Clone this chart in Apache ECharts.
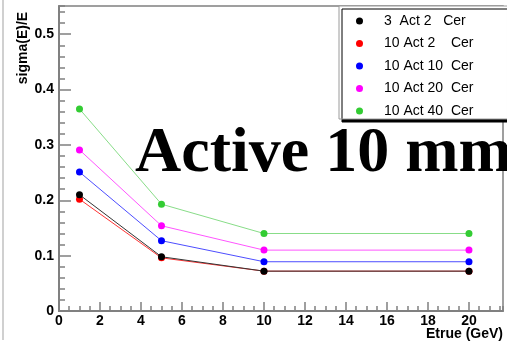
<!DOCTYPE html>
<html>
<head>
<meta charset="utf-8">
<script src="https://cdn.jsdelivr.net/npm/echarts@6/dist/echarts.min.js"></script>
<style>
  html, body { margin: 0; padding: 0; background: #fff; }
  #chart { width: 507px; height: 344px; }
</style>
</head>
<body>
<div id="chart"></div>
<script>
// Energy points (GeV)
var etrue = [1, 5, 10, 20];

// Series names and resolution values sigma(E)/E
var seriesNames = ['3  Act 2   Cer', '10 Act 2    Cer', '10 Act 10  Cer', '10 Act 20  Cer', '10 Act 40  Cer'];
var act3cer2   = [0.210, 0.098, 0.072, 0.072];
var act10cer2  = [0.202, 0.096, 0.072, 0.072];
var act10cer10 = [0.251, 0.127, 0.089, 0.089];
var act10cer20 = [0.291, 0.154, 0.110, 0.110];
var act10cer40 = [0.365, 0.193, 0.140, 0.140];
var seriesColors = ['#000000', '#ff0000', '#0000ff', '#ff00ff', '#33cc33'];
var lineColors   = ['#333333', '#ff3333', '#4d4dff', '#ff55ff', '#88dd88'];

var xTicks = [0, 2, 4, 6, 8, 10, 12, 14, 16, 18, 20];
var yTicks = [0, 0.1, 0.2, 0.3, 0.4, 0.5];

var allValues = [act3cer2, act10cer2, act10cer10, act10cer20, act10cer40];

var chart = echarts.init(document.getElementById('chart'), null, { renderer: 'canvas' });

function pairs(vals) {
  return etrue.map(function (e, i) { return [e, vals[i]]; });
}

var axisGrey = '#808080';
var labelFont = { fontFamily: 'Liberation Sans', fontWeight: 'bold', fontSize: 14, color: '#000' };

// Draw red before black so black sits on top; legend keeps the listed order
var drawOrder = [1, 0, 2, 3, 4];
var series = drawOrder.map(function (k) {
  return {
    name: seriesNames[k],
    type: 'line',
    data: pairs(allValues[k]),
    xAxisIndex: 0,
    yAxisIndex: 0,
    symbol: 'circle',
    symbolSize: 7,
    showAllSymbol: true,
    z: k === 0 ? 4 : 3,
    itemStyle: { color: seriesColors[k] },
    lineStyle: { color: lineColors[k], width: 1 },
    emphasis: { disabled: true }
  };
});

var option = {
  animation: false,
  backgroundColor: '#ffffff',
  grid: {
    left: 59, top: 6, right: 4, bottom: 33,
    show: true, borderColor: axisGrey, borderWidth: 1.5, backgroundColor: '#fff'
  },
  xAxis: [
    {
      type: 'value', min: 0, max: 21.66, interval: 2, position: 'bottom',
      axisLine: { show: true, onZero: false, lineStyle: { color: axisGrey, width: 2 } },
      axisTick: { show: true, inside: true, length: 9, lineStyle: { color: axisGrey, width: 1.5 } },
      splitLine: { show: false },
      axisLabel: Object.assign({ margin: 3, showMaxLabel: false,
        formatter: function (v) { return xTicks.indexOf(v) >= 0 ? String(v) : ''; } }, labelFont)
    },
    {
      type: 'value', min: 0, max: 21.66, interval: 0.5, position: 'bottom',
      axisLine: { show: false },
      axisTick: { show: true, inside: true, length: 5, lineStyle: { color: axisGrey, width: 1.5 } },
      splitLine: { show: false },
      axisLabel: { show: false }
    }
  ],
  yAxis: [
    {
      type: 'value', min: 0, max: 0.551, interval: 0.1, position: 'left',
      axisLine: { show: true, onZero: false, lineStyle: { color: axisGrey, width: 2 } },
      axisTick: { show: true, inside: true, length: 12, lineStyle: { color: axisGrey, width: 1.5 } },
      splitLine: { show: false },
      axisLabel: Object.assign({ margin: 5, showMaxLabel: false,
        formatter: function (v) {
          var r = Math.round(v * 10) / 10;
          return yTicks.indexOf(r) >= 0 ? (r === 0 ? '0' : r.toFixed(1)) : '';
        } }, labelFont)
    },
    {
      type: 'value', min: 0, max: 0.551, interval: 0.02, position: 'left',
      axisLine: { show: false },
      axisTick: { show: true, inside: true, length: 6, lineStyle: { color: axisGrey, width: 1.5 } },
      splitLine: { show: false },
      axisLabel: { show: false }
    }
  ],
  legend: {
    data: seriesNames,
    orient: 'vertical',
    left: 339, top: 6,
    padding: [7, 34, 0, 17],
    itemWidth: 7, itemHeight: 7, itemGap: 6.5,
    icon: 'circle',
    backgroundColor: '#ffffff',
    borderColor: '#9a9a9a', borderWidth: 1,
    shadowColor: '#000', shadowBlur: 0, shadowOffsetX: 3, shadowOffsetY: 3,
    selectedMode: false,
    textStyle: { fontFamily: 'Liberation Sans', fontSize: 14, color: '#000', lineHeight: 16, padding: [0, 0, 0, 16] }
  },
  graphic: [
    {
      type: 'line', z: 0, silent: true,
      shape: { x1: 3, y1: 0, x2: 3, y2: 340 },
      style: { stroke: '#c0c0c0', lineWidth: 1.5 }
    },
    {
      type: 'text', z: 100, silent: true, left: 135, top: 122,
      style: { text: 'Active 10 mm', font: 'bold 64px "Liberation Serif", "Times New Roman", serif', fill: '#000' }
    },
    {
      type: 'text', z: 100, silent: true, x: 23, y: 48, rotation: Math.PI / 2,
      style: { text: 'sigma(E)/E', font: 'bold 14px "Liberation Sans", Arial, sans-serif', fill: '#000', align: 'center', verticalAlign: 'middle' }
    },
    {
      type: 'text', z: 100, silent: true, x: 503, y: 334,
      style: { text: 'Etrue (GeV)', font: 'bold 14px "Liberation Sans", Arial, sans-serif', fill: '#000', align: 'right', verticalAlign: 'middle' }
    }
  ],
  series: series
};

chart.setOption(option);
</script>
</body>
</html>
